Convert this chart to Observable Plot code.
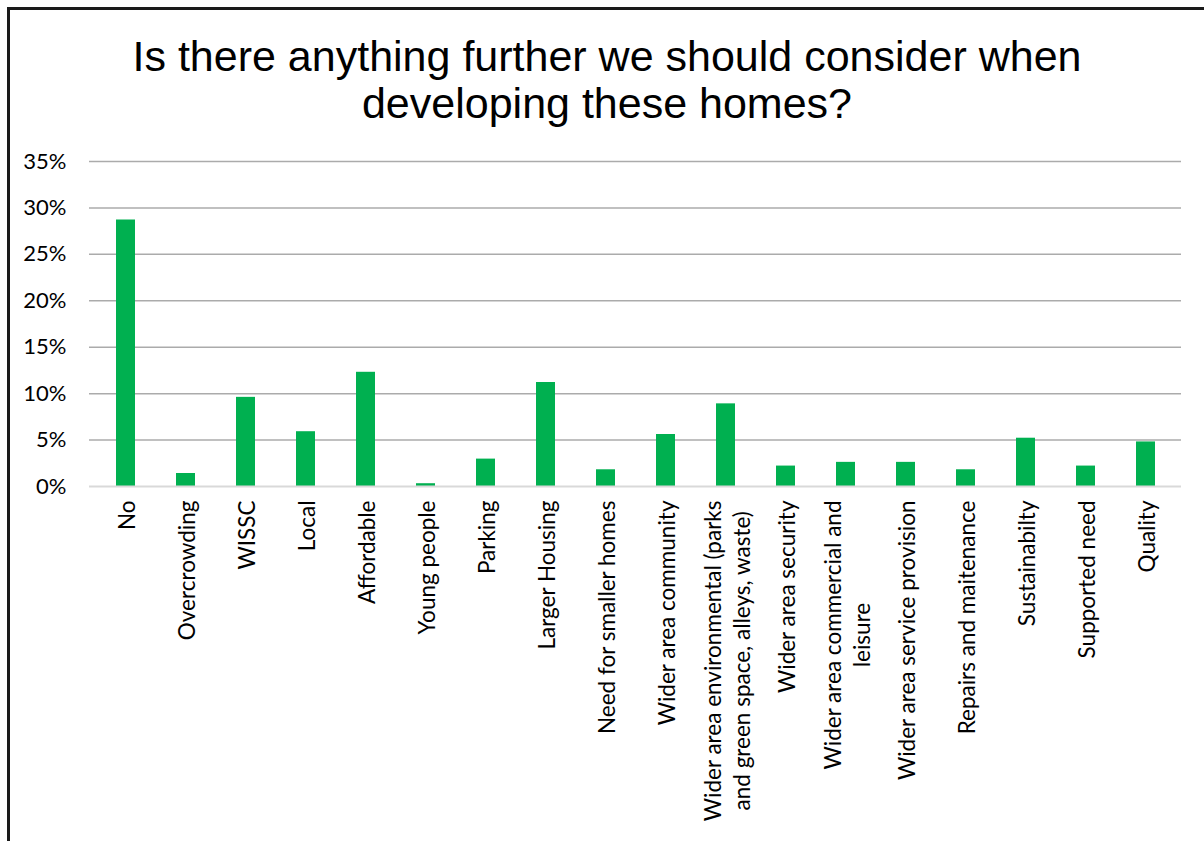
<!DOCTYPE html>
<html><head><meta charset="utf-8">
<script src="https://cdn.jsdelivr.net/npm/d3@7"></script>
<script src="https://cdn.jsdelivr.net/npm/@observablehq/plot@0.6"></script>
<style>
body{margin:0;background:#fff;}
#wrap{position:relative;width:1204px;height:841px;overflow:hidden;background:#fff;}
#frame{position:absolute;left:7px;top:7px;width:1300px;height:1000px;border-left:3px solid #1a1a1a;border-top:3px solid #1a1a1a;}
#title{position:absolute;left:10px;top:33px;width:1194px;text-align:center;font-family:"Liberation Sans",Arial,sans-serif;font-size:43px;line-height:47px;color:#000;}
#chart{position:absolute;left:0;top:148px;}
</style></head>
<body><div id="wrap"><div id="frame"></div><div id="title">Is there anything further we should consider when<br>developing these homes?</div><div id="chart"></div></div>
<script>
const categories = ["No","Overcrowding","WISSC","Local","Affordable","Young people","Parking","Larger Housing","Need for smaller homes","Wider area community","Wider area environmental","Wider area security","Wider area commercial and leisure","Wider area service provision","Repairs and maitenance","Sustainabilty","Supported need","Quality"];
const values = [28.7,1.4,9.6,5.9,12.3,0.3,2.95,11.2,1.8,5.6,8.9,2.2,2.6,2.6,1.8,5.2,2.2,4.8];
const tickLabels = ["No","Overcrowding","WISSC","Local","Affordable","Young people","Parking","Larger Housing","Need for smaller homes","Wider area community","Wider area environmental (parks\nand green space, alleys, waste)","Wider area security","Wider area commercial and\nleisure","Wider area service provision","Repairs and maitenance","Sustainabilty","Supported need","Quality"];
const yTicks = [0,5,10,15,20,25,30,35];

const data = categories.map((c,i)=>({category:c, value:values[i], label:tickLabels[i]}));

const chart = Plot.plot({
  width:1204, height:693, marginTop:13, marginBottom:355, marginLeft:89, marginRight:23,
  style:{fontFamily:"Lato, sans-serif", color:"#000", background:"transparent", overflow:"visible"},
  x:{domain:categories, paddingInner:0.69, paddingOuter:0.345, axis:null},
  y:{domain:[0,35], axis:null},
  marks:[
    Plot.gridY(yTicks.filter(d=>d>0), {stroke:"#ababab", strokeOpacity:1, strokeWidth:1.5}),
    Plot.barY(data, {x:"category", y:"value", fill:"#00B050"}),
    Plot.ruleY([0], {stroke:"#d9d9d9", strokeWidth:2}),
    Plot.axisY(yTicks, {tickSize:0, tickPadding:23, tickFormat:d=>d+"%", fontSize:22, label:null}),
    Plot.text(data, {x:"category", frameAnchor:"bottom", text:"label", dy:14, rotate:-90, textAnchor:"end", lineAnchor:"middle", lineHeight:1.3, fontSize:22.5, fill:"#000"})
  ]
});
document.getElementById("chart").appendChild(chart);
// center wrapped label lines on each other
chart.querySelectorAll("text").forEach(t=>{
  const spans = t.querySelectorAll("tspan");
  if (spans.length > 1) {
    const lens = Array.from(spans, s=>s.getComputedTextLength());
    const max = Math.max(...lens);
    spans.forEach((s,i)=>s.setAttribute("x", -(max-lens[i])/2));
  }
});
</script>
</body></html>
